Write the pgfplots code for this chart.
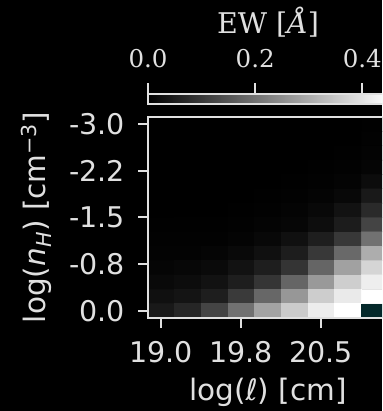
\documentclass[border=0pt]{standalone}
\usepackage{pgfplots}
\pgfplotsset{compat=1.18}
\usepackage{fontspec}
\setmainfont{DejaVu Sans}
\newfontfamily\seriffont{DejaVu Serif}
\definecolor{fg}{gray}{0.88}
\definecolor{tealc}{RGB}{4,40,42}
\begin{document}
\begin{tikzpicture}[x=1pt,y=1pt]
\path[use as bounding box, fill=black] (0,0) rectangle (382,411);
\clip (0,0) rectangle (382,411);
% main heatmap
\begin{axis}[
  at={(148pt,93pt)}, anchor=south west,
  scale only axis, width=240pt, height=201pt,
  xmin=-0.5, xmax=8.5, ymin=-0.5, ymax=13.5,
  y dir=reverse, enlargelimits=false, axis on top,
  colormap={bw}{gray(0cm)=(0); gray(1cm)=(1)},
  point meta min=0, point meta max=0.448,
  xtick={0,3,6}, xticklabels={19.0,19.8,20.5},
  ytick={0,3.25,6.5,9.75,13}, yticklabels={-3.0,-2.2,-1.5,-0.8,0.0},
  xtick pos=left, ytick pos=left,
  tick align=outside, major tick length=10pt,
  every tick/.style={draw=fg, line width=2pt},
  axis line style={draw=fg, line width=2pt},
  ticklabel style={text=fg, font=\fontsize{28.5}{34}\selectfont, inner sep=0pt},
  xticklabel style={yshift=-13pt},
  yticklabel style={xshift=-13pt},
  label style={text=fg, font=\fontsize{29.5}{35}\selectfont},
  xlabel={log(\textit{ℓ}) [cm]},
  xlabel style={at={(axis description cs:0.5,-0.408)}, anchor=base, inner sep=0pt},
  ylabel={log(\textit{n}\textsubscript{\textit{H}}) [cm\textsuperscript{−3}]},
  ylabel style={at={(axis description cs:-0.429,0.5)}, anchor=base, rotate=0, inner sep=0pt},
]
\addplot[matrix plot*, mesh/cols=9, point meta=explicit] table[meta=c] {
x y c
0 0 0
1 0 0
2 0 0
3 0 0
4 0 0
5 0 0
6 0 0
7 0 0
8 0 0.002
0 1 0
1 1 0
2 1 0
3 1 0
4 1 0
5 1 0
6 1 0
7 1 0
8 1 0.004
0 2 0
1 2 0
2 2 0
3 2 0
4 2 0
5 2 0
6 2 0
7 2 0.002
8 2 0.005
0 3 0
1 3 0
2 3 0
3 3 0
4 3 0
5 3 0
6 3 0.002
7 3 0.004
8 3 0.009
0 4 0
1 4 0
2 4 0
3 4 0
4 4 0
5 4 0.002
6 4 0.004
7 4 0.007
8 4 0.021
0 5 0
1 5 0
2 5 0
3 5 0
4 5 0.002
5 5 0.004
6 5 0.007
7 5 0.014
8 5 0.044
0 6 0
1 6 0
2 6 0
3 6 0.002
4 6 0.004
5 6 0.007
6 6 0.014
7 6 0.032
8 6 0.074
0 7 0.002
1 7 0.002
2 7 0.002
3 7 0.004
4 7 0.007
5 7 0.011
6 7 0.023
7 7 0.049
8 7 0.119
0 8 0.004
1 8 0.004
2 8 0.004
3 8 0.007
4 8 0.014
5 8 0.028
6 8 0.053
7 8 0.097
8 8 0.197
0 9 0.005
1 9 0.005
2 9 0.009
3 9 0.016
4 9 0.028
5 9 0.051
6 9 0.097
7 9 0.184
8 9 0.302
0 10 0.009
1 10 0.012
2 10 0.018
3 10 0.032
4 10 0.053
5 10 0.091
6 10 0.176
7 10 0.281
8 10 0.372
0 11 0.016
1 11 0.021
2 11 0.032
3 11 0.053
4 11 0.093
5 11 0.176
6 11 0.267
7 11 0.360
8 11 0.416
0 12 0.028
1 12 0.035
2 12 0.053
3 12 0.102
4 12 0.179
5 12 0.264
6 12 0.357
7 12 0.408
8 12 0.448
0 13 0.044
1 13 0.067
2 13 0.119
3 13 0.197
4 13 0.285
5 13 0.355
6 13 0.413
7 13 0.448
8 13 0.448
};
\addplot[draw=none, fill=tealc] coordinates {(7.5,12.5) (8.5,12.5) (8.5,13.5) (7.5,13.5) (7.5,12.5)} -- cycle;
\end{axis}
% colorbar
\begin{axis}[
  at={(148pt,307pt)}, anchor=south west,
  scale only axis, width=240pt, height=9.5pt,
  xmin=0, xmax=0.448, ymin=0, ymax=1,
  enlargelimits=false, axis on top,
  colormap={bw}{gray(0cm)=(0); gray(1cm)=(1)},
  point meta min=0, point meta max=0.448,
  xtick={0,0.2,0.4}, ytick=\empty,
  xtick pos=right, xticklabel pos=right,
  tick align=outside, major tick length=11pt,
  every tick/.style={draw=fg, line width=2pt},
  axis line style={draw=fg, line width=2pt},
  xticklabel style={text=fg, font=\seriffont\fontsize{24.5}{29}\selectfont, inner sep=0pt, yshift=15pt, /pgf/number format/.cd, fixed, fixed zerofill, precision=1},
  /pgf/number format/assume math mode=true,
  xlabel={EW [\textit{Å}]},
  xlabel style={text=fg, font=\seriffont\fontsize{28.5}{34}\selectfont, at={(axis description cs:0.5,7.37)}, anchor=base, inner sep=0pt},
]
\addplot[surf, shader=interp, mesh/rows=2, mesh/cols=2, point meta=x] coordinates {(0,0) (0.448,0) (0,1) (0.448,1)};
\end{axis}
\end{tikzpicture}
\end{document}
